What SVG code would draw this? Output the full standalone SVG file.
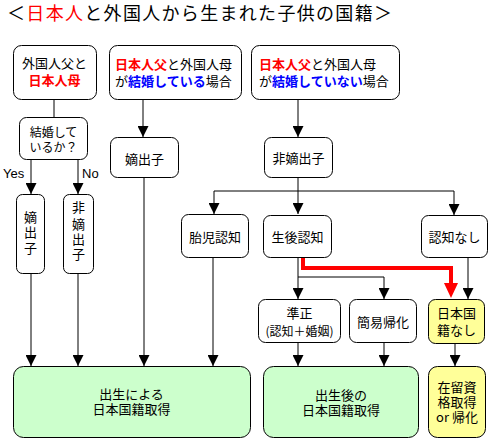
<svg xmlns="http://www.w3.org/2000/svg" width="490" height="440" viewBox="0 0 490 440">
<style>
text{font-family:"Noto Sans CJK JP","Noto Sans CJK SC",sans-serif;font-size:13px;fill:#000}
.c{text-anchor:middle}
.title{font-size:18px}
.s{font-size:12px}
.r{fill:#f00;font-weight:bold}
.b{fill:#00f;font-weight:bold}
.box{fill:#fff;stroke:#000;stroke-width:1}
.g{fill:#ccffcc;stroke:#000;stroke-width:1}
.y{fill:#ffff99;stroke:#000;stroke-width:1}
.ln{fill:none;stroke:#000;stroke-width:1}
.red{fill:none;stroke:#f00;stroke-width:4}
.lat{font-family:"Liberation Sans",Arial,sans-serif;font-size:13px}
</style>
<defs>
<marker id="ah" markerUnits="userSpaceOnUse" markerWidth="11" markerHeight="11" viewBox="0 0 11 11" refX="11" refY="5.5" orient="auto">
<path d="M0,0 L11,5.5 L0,11 z" fill="#000"/>
</marker>
</defs>
<rect width="490" height="440" fill="#fff"/>
<text class="title" x="7" y="20" textLength="385" lengthAdjust="spacing">＜<tspan fill="#f00">日本人</tspan>と外国人から生まれた子供の国籍＞</text>

<g id="connectors">
<path class="ln" d="M54,99 V117"/>
<path class="ln" d="M31,159 V194" marker-end="url(#ah)"/>
<path class="ln" d="M78,159 V194" marker-end="url(#ah)"/>
<path class="ln" d="M143,99 V137" marker-end="url(#ah)"/>
<path class="ln" d="M298,99 V137" marker-end="url(#ah)"/>
<path class="ln" d="M298,177 V214" marker-end="url(#ah)"/>
<path class="ln" d="M214,191 H454"/>
<path class="ln" d="M214,191 V214" marker-end="url(#ah)"/>
<path class="ln" d="M454,191 V215" marker-end="url(#ah)"/>
<path class="ln" d="M31,273 V366" marker-end="url(#ah)"/>
<path class="ln" d="M78,273 V366" marker-end="url(#ah)"/>
<path class="ln" d="M144,177 V366" marker-end="url(#ah)"/>
<path class="ln" d="M213,257 V366" marker-end="url(#ah)"/>
<path class="ln" d="M298,257 V299" marker-end="url(#ah)"/>
<path class="ln" d="M298,277 H384 V299" marker-end="url(#ah)"/>
<path class="ln" d="M468,257 V299" marker-end="url(#ah)"/>
<path class="ln" d="M298,342 V366" marker-end="url(#ah)"/>
<path class="ln" d="M384,342 V366" marker-end="url(#ah)"/>
<path class="ln" d="M455,343 V366" marker-end="url(#ah)"/>
<path class="red" d="M303,257 V268 H451 V284"/>
<path d="M444,283 L458,283 L451,298 z" fill="#f00"/>
<text class="lat" x="3" y="178">Yes</text>
<text class="lat" x="82" y="178">No</text>
</g>

<g id="n1">
<rect class="box" x="13.5" y="45.5" width="83" height="54" rx="8"/>
<text class="c" x="54.5" y="67.5">外国人父と</text>
<text class="c r" x="54.5" y="84.5">日本人母</text>
</g>
<g id="n2">
<rect class="box" x="109.5" y="45.5" width="132" height="54" rx="8"/>
<text x="115" y="68.5"><tspan class="r">日本人父</tspan>と外国人母</text>
<text x="115" y="85.5">が<tspan class="b">結婚している</tspan>場合</text>
</g>
<g id="n3">
<rect class="box" x="251.5" y="45.5" width="148" height="54" rx="8"/>
<text x="259" y="68.5"><tspan class="r">日本人父</tspan>と外国人母</text>
<text x="259" y="85.5">が<tspan class="b">結婚していない</tspan>場合</text>
</g>
<g id="decision">
<rect class="box" x="19.5" y="117.5" width="68" height="42" rx="7"/>
<text class="c s" x="53.5" y="136.5">結婚して</text>
<text class="c s" x="53.5" y="151.5">いるか？</text>
</g>
<g id="yes">
<rect class="box" x="16.5" y="194.5" width="28" height="79" rx="6"/>
<text class="c" x="30.5" y="221.5">嫡</text>
<text class="c" x="30.5" y="237">出</text>
<text class="c" x="30.5" y="253">子</text>
</g>
<g id="no">
<rect class="box" x="63.5" y="194.5" width="30" height="79" rx="6"/>
<text class="c" x="78.5" y="211.5">非</text>
<text class="c" x="78.5" y="228.5">嫡</text>
<text class="c" x="78.5" y="244">出</text>
<text class="c" x="78.5" y="259">子</text>
</g>
<g id="legit">
<rect class="box" x="110.5" y="137.5" width="68" height="40" rx="7"/>
<text class="c" x="144.5" y="163.5">嫡出子</text>
</g>
<g id="illegit">
<rect class="box" x="264.5" y="137.5" width="68" height="40" rx="7"/>
<text class="c" x="298.5" y="162.5">非嫡出子</text>
</g>
<g id="prenatal">
<rect class="box" x="181.5" y="214.5" width="67" height="43" rx="7"/>
<text class="c" x="215" y="241.5">胎児認知</text>
</g>
<g id="postnatal">
<rect class="box" x="263.5" y="215.5" width="68" height="42" rx="7"/>
<text class="c" x="297.5" y="241.5">生後認知</text>
</g>
<g id="norecog">
<rect class="box" x="421.5" y="215.5" width="66" height="42" rx="7"/>
<text class="c" x="454.5" y="241.5">認知なし</text>
</g>
<g id="legitimation">
<rect class="box" x="258.5" y="299.5" width="82" height="43" rx="7"/>
<text class="c" x="299.5" y="317.5">準正</text>
<text class="c s" x="299.5" y="335.5">(認知＋婚姻)</text>
</g>
<g id="simplenat">
<rect class="box" x="349.5" y="299.5" width="67" height="43" rx="7"/>
<text class="c" x="383" y="326.5">簡易帰化</text>
</g>
<g id="nonat">
<rect class="y" x="428.5" y="299.5" width="56" height="44" rx="7"/>
<text class="c" x="456.5" y="317.5">日本国</text>
<text class="c" x="456.5" y="334.5">籍なし</text>
</g>
<g id="birthnat">
<rect class="g" x="13.5" y="366.5" width="237" height="71" rx="10"/>
<text class="c" x="131.5" y="398.5">出生による</text>
<text class="c" x="131.5" y="413.5">日本国籍取得</text>
</g>
<g id="afternat">
<rect class="g" x="263.5" y="366.5" width="155" height="71" rx="10"/>
<text class="c" x="341" y="399.5">出生後の</text>
<text class="c" x="341" y="414.5">日本国籍取得</text>
</g>
<g id="residence">
<rect class="y" x="428.5" y="366.5" width="57" height="71" rx="9"/>
<text class="c" x="457" y="391.5">在留資</text>
<text class="c" x="457" y="406.5">格取得</text>
<text class="c" x="457" y="421.5">or 帰化</text>
</g>
</svg>
